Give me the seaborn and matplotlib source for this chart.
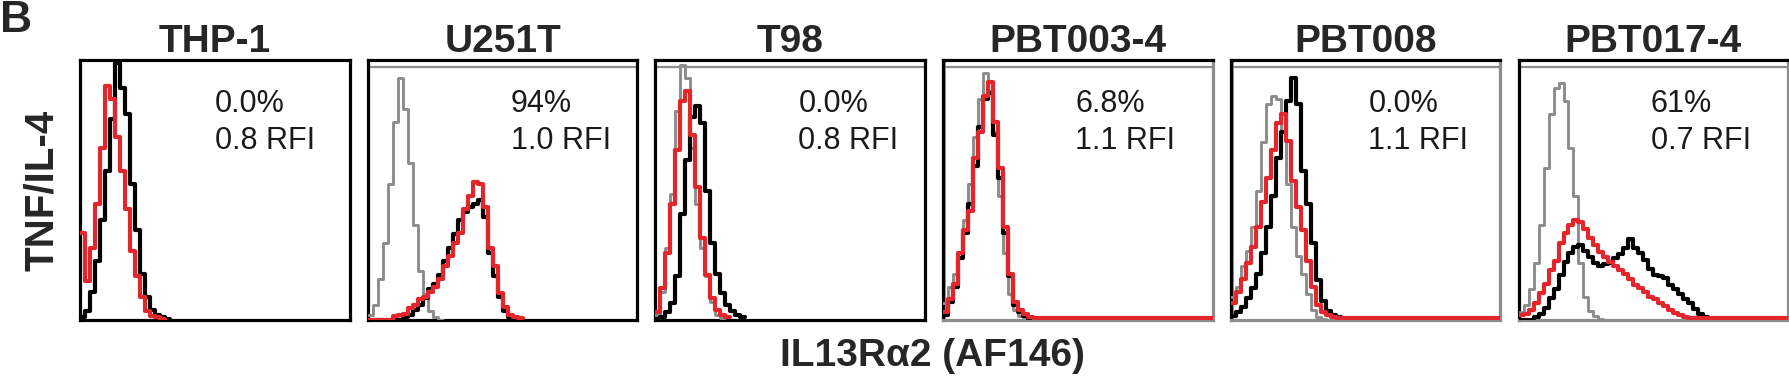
import numpy as np
import pandas as pd
import matplotlib
matplotlib.use('Agg')
import matplotlib.pyplot as plt
import seaborn as sns

# Cell lines and the gate / RFI annotations
panels = ["THP-1", "U251T", "T98", "PBT003-4", "PBT008", "PBT017-4"]
pct_labels = ["0.0%", "94%", "0.0%", "6.8%", "0.0%", "61%"]
rfi_labels = ["0.8 RFI", "1.0 RFI", "0.8 RFI", "1.1 RFI", "1.1 RFI", "0.7 RFI"]

# Histogram heights (% of max) per channel bin
# grey = isotype, black = untreated, red = TNF/IL-4
thp1_black = [1, 3.5, 11, 23, 39, 58, 78, 100, 90, 80, 53, 35, 18, 9, 4, 2, 1, 0.5]
thp1_red = [34, 15, 28, 45, 67, 91, 86, 71, 58, 43, 27, 17, 9, 3.5, 1.5, 1, 0.5]

u251_grey = [2, 6, 16, 30, 53, 77, 94, 82, 61, 37, 19, 10, 3.5, 1, 0]
u251_black = [0, 0, 0, 0, 0, 0, 0, 1, 2, 4, 6, 8.5, 12, 14, 17.5, 23, 28, 33.5, 39, 42,
              44, 45, 46.5, 40, 26, 17, 9, 3.5, 1.3, 0.5]
u251_red = [0, 0, 0, 0, 0, 1.5, 2, 2.5, 4.5, 6, 8, 9, 11, 13, 16, 21, 25, 30, 34, 43,
            48, 53.5, 53, 44, 28, 21, 10.5, 5, 2, 1.3, 0.8]

t98_grey = [2, 11, 28, 49, 81, 99, 94, 67, 45, 28, 17, 7, 2, 0.8]
t98_black = [0.5, 1.3, 3, 6.7, 17, 41, 62, 79, 83, 76.5, 50, 30, 18, 10.5, 6, 3.5, 2, 1.2]
t98_red = [3, 12.5, 26, 45, 66, 85, 89, 72, 51.5, 32, 17.5, 8.5, 4, 2, 1]

pbt003_grey = [6.7, 13, 18, 26, 39, 53, 71, 86, 96, 89, 73, 48, 26, 10, 4, 1.5, 0.5]
pbt003_black = [2, 7, 13, 24, 34, 45, 60, 75, 86, 88, 72, 55, 34, 17, 6, 3, 1.5, 0.5]
pbt003_red = [3, 8, 14, 26, 35, 42.5, 63, 73, 87, 92.5, 77, 59, 36, 18, 7, 4, 2.5, 1]

pbt008_grey = [9, 13, 21, 27, 36, 50, 69, 84, 87, 86, 73, 53, 36, 25, 18, 10, 4, 1.3, 0.5]
pbt008_black = [1.5, 3, 5, 8.5, 12.5, 18, 26, 36, 48, 63, 73, 85, 94, 84, 58, 45, 30,
                15.6, 7.3, 3.5, 2, 1.2, 0.5]
pbt008_red = [6.7, 11, 16, 22, 28.5, 36, 46, 55, 66, 76.5, 80, 69.5, 54, 44, 35, 23, 13,
              6, 3, 1.8, 1.3]

pbt017_grey = [3, 6, 12, 22, 37, 59, 80, 90, 92, 85, 67, 48, 22, 9, 3.5, 1.5, 0.5]
pbt017_black = [0, 0, 0, 1.3, 2.5, 4.7, 8.6, 12, 17.5, 22.7, 26, 28.5, 29, 27, 24.6, 22,
                20.8, 21.8, 22.3, 24, 25.6, 27.8, 31.3, 27.8, 26, 23.3, 20, 17.5, 17,
                16.3, 13.7, 12, 10, 8, 6.7, 4.4, 2.5, 1.2, 0.5]
pbt017_red = [1.8, 2.5, 4, 6.7, 10.5, 14, 19.5, 23, 30, 34, 37, 39, 38, 35.5, 32, 29, 26.5,
              24.6, 22.7, 20.8, 19.5, 18, 16, 13.7, 12.4, 11, 9, 8, 6.7, 5.4, 4, 2.8, 1.8, 1.2]

# baseline level of the red trace running on to the right edge (None = trace stops)
red_baseline = [None, None, None, 0.9, 0.9, 0.9]

grey_sets = [None, u251_grey, t98_grey, pbt003_grey, pbt008_grey, pbt017_grey]
black_sets = [thp1_black, u251_black, t98_black, pbt003_black, pbt008_black, pbt017_black]
red_sets = [thp1_red, u251_red, t98_red, pbt003_red, pbt008_red, pbt017_red]

NBINS = 54
GREY = "#8c8c8c"
RED = "#e3262b"
# frame look per panel (first three fully black, last three grey right/bottom)
frame_dark = [True, True, True, False, False, False]
# left edge of the annotation text, in axes fraction
text_x = [0.50, 0.53, 0.53, 0.49, 0.51, 0.49]


def draw_hist(ax, vals, color, lw, tail=None):
    vals = np.asarray(vals, dtype=float)
    if tail is not None:
        vals = np.pad(vals, (0, NBINS - len(vals)), constant_values=tail)
    n = len(vals)
    df = pd.DataFrame({"channel": np.arange(n) + 0.5, "height": vals})
    sns.histplot(data=df, x="channel", weights="height", binwidth=1, binrange=(0, n),
                 element="step", fill=False, color=color, linewidth=lw, ax=ax)


sns.set_style("white")
plt.rcParams['font.family'] = ['Liberation Sans', 'DejaVu Sans']

fig, axes = plt.subplots(1, 6, figsize=(17.9, 3.81), dpi=100)
fig.subplots_adjust(left=0.0447, right=0.999, bottom=0.160, top=0.8425, wspace=0.067)

for i, ax in enumerate(axes):
    if grey_sets[i] is not None:
        draw_hist(ax, grey_sets[i], GREY, 2.1)
    draw_hist(ax, black_sets[i], "black", 3.0)
    draw_hist(ax, red_sets[i], RED, 3.0, tail=red_baseline[i])

    ax.set_xlim(0, NBINS)
    ax.set_ylim(0, 101)
    ax.set_xticks([])
    ax.set_yticks([])
    ax.set_xlabel("")
    ax.set_ylabel("")
    ax.set_title(panels[i], fontsize=28, fontweight="bold", pad=5)

    for side, sp in ax.spines.items():
        sp.set_visible(True)
        sp.set_linewidth(2.3)
        sp.set_zorder(1.5)
        if frame_dark[i] or side in ("left", "top"):
            sp.set_color("black")
        else:
            sp.set_color(GREY)
    if i > 0:
        ax.axhline(98.3, color=GREY, lw=1.6, zorder=1)
    if not frame_dark[i]:
        ax.axvline(0.35, color=GREY, lw=1.2, zorder=1)

    ax.text(text_x[i], 0.89, pct_labels[i] + "\n" + rfi_labels[i], transform=ax.transAxes,
            ha="left", va="top", fontsize=22, linespacing=1.3, color="#1a1a1a")

axes[0].set_ylabel("TNF/IL-4", fontsize=29, fontweight="bold", labelpad=14)
fig.text(0.521, 0.066, "IL13R\u03b12 (AF146)", ha="center", va="center",
         fontsize=28, fontweight="bold")
fig.text(0.0, 1.0, "B", ha="left", va="top", fontsize=32, fontweight="bold")

plt.savefig("out.png", dpi=100)
plt.close()
